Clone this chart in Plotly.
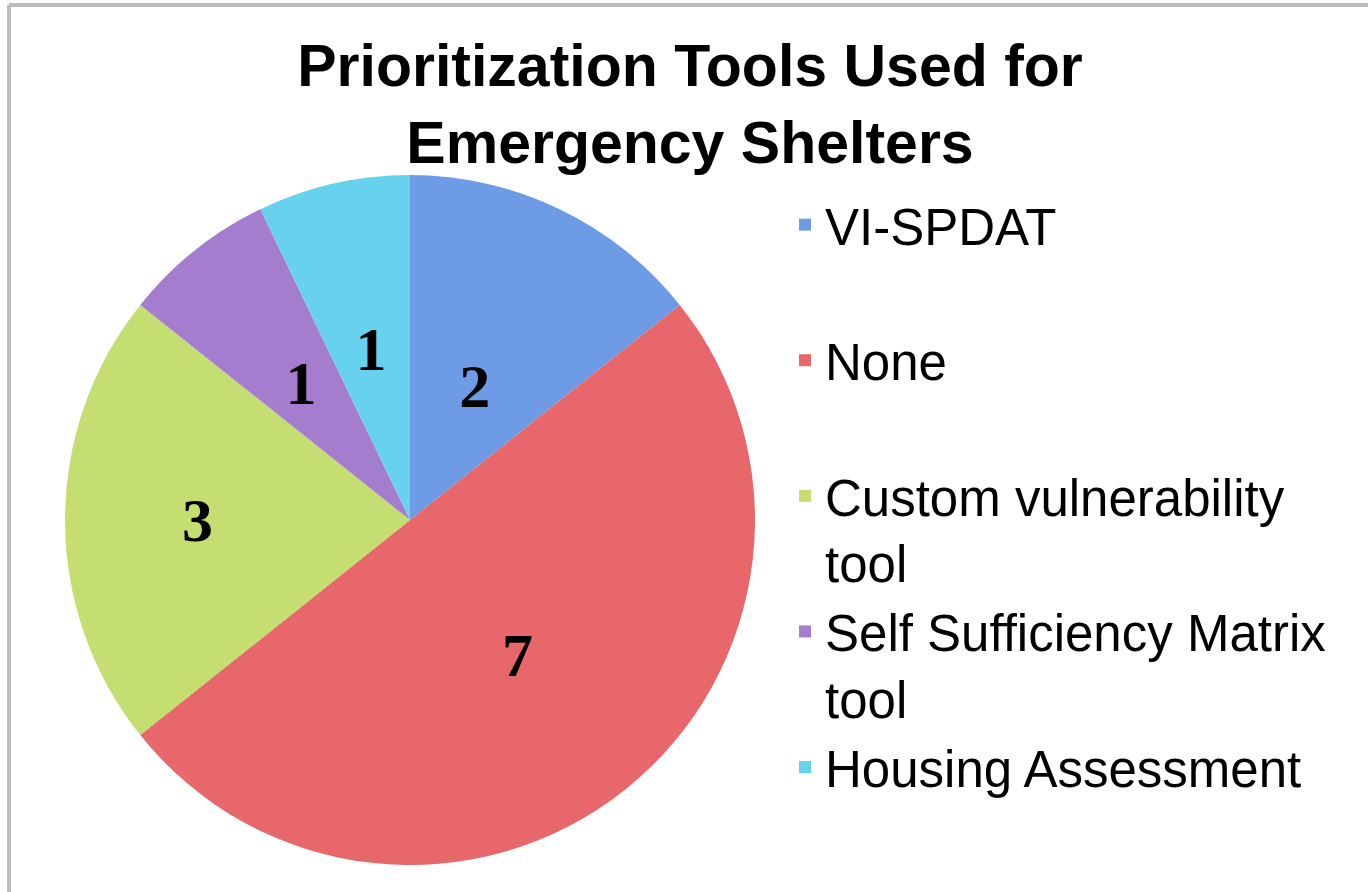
import plotly.graph_objects as go

# Data
tools = [
    "VI-SPDAT",
    "None",
    "Custom vulnerability<br>tool",
    "Self Sufficiency Matrix<br>tool",
    "Housing Assessment",
]
shelter_counts = [2, 7, 3, 1, 1]
slice_colors = ["#6d9be6", "#e8676a", "#c4de72", "#a57dcf", "#66d2ee"]

W, H = 1368, 892

# pad one-line entries to two lines so every legend item has the same height
legend_labels = [t if "<br>" in t else t + "<br> " for t in tools]


def pie_domain(cx, cy, r):
    # pixel centre/radius -> paper domain
    return dict(x=[(cx - r) / W, (cx + r) / W], y=[1 - (cy + r) / H, 1 - (cy - r) / H])


label_font = dict(family="Liberation Serif, Times New Roman, serif", size=62, color="black")
CX, CY, R = 410, 520, 345

# big slices carry their own labels, small ones get labels from a smaller
# transparent copy of the pie so they sit nearer the centre (like Excel)
big_text = ["<b>%d</b>" % v if v >= 3 else "" for v in shelter_counts]
small_text = ["<b>%d</b>" % v if v < 3 else "" for v in shelter_counts]

fig = go.Figure()

fig.add_trace(go.Pie(
    labels=legend_labels,
    values=shelter_counts,
    sort=False,
    direction="clockwise",
    rotation=0,
    marker=dict(colors=slice_colors, line=dict(width=0)),
    text=big_text,
    textinfo="text",
    textposition="inside",
    insidetextorientation="horizontal",
    textfont=label_font,
    domain=pie_domain(CX, CY, R),
    hoverinfo="label+value",
))

fig.add_trace(go.Pie(
    labels=legend_labels,
    values=shelter_counts,
    sort=False,
    direction="clockwise",
    rotation=0,
    marker=dict(colors=["rgba(0,0,0,0)"] * len(tools), line=dict(width=0)),
    text=small_text,
    textinfo="text",
    textposition="inside",
    insidetextorientation="horizontal",
    textfont=label_font,
    domain=pie_domain(CX, CY, R * 0.62),
    hoverinfo="skip",
    showlegend=False,
))

fig.update_layout(
    width=W,
    height=H,
    margin=dict(l=0, r=0, t=0, b=0),
    paper_bgcolor="white",
    plot_bgcolor="white",
    title=dict(
        text="<b>Prioritization Tools Used for<br>Emergency Shelters</b>",
        font=dict(family="Liberation Sans, Arial, sans-serif", size=59, color="black"),
        x=690 / W,
        xanchor="center",
        y=1 - 86 / H,
        yanchor="top",
    ),
    legend=dict(
        x=785 / W,
        xanchor="left",
        y=1 - 185 / H,
        yanchor="top",
        valign="top",
        font=dict(family="Liberation Sans, Arial, sans-serif", size=51, color="black"),
        bgcolor="rgba(0,0,0,0)",
        traceorder="normal",
    ),
    shapes=[
        dict(type="line", xref="paper", yref="paper", x0=9 / W, x1=1, y0=1 - 5 / H, y1=1 - 5 / H,
             line=dict(color="#bdbdbd", width=4)),
        dict(type="line", xref="paper", yref="paper", x0=9 / W, x1=9 / W, y0=0, y1=1 - 5 / H,
             line=dict(color="#bdbdbd", width=4)),
    ],
)

fig.write_html(
    "out.html",
    config={"displayModeBar": False},
    post_script="document.body.style.margin = '0';",
)
